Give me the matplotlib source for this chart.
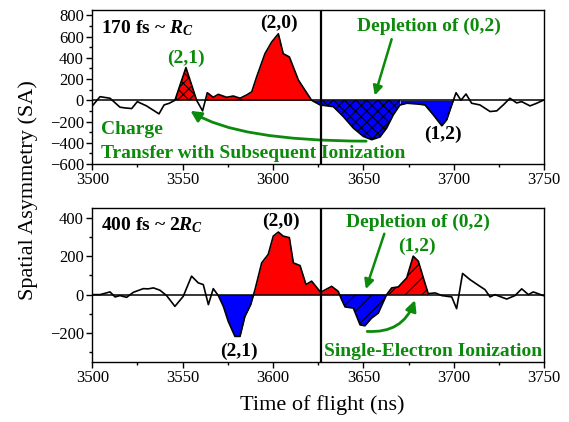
import numpy as np
import matplotlib
matplotlib.use("Agg")
import matplotlib.pyplot as plt
from matplotlib.ticker import MultipleLocator

plt.rcParams['font.family'] = 'Liberation Serif'
plt.rcParams['mathtext.fontset'] = 'custom'
plt.rcParams['mathtext.rm'] = 'Liberation Serif:bold'
plt.rcParams['mathtext.it'] = 'Liberation Serif:bold:italic'
plt.rcParams['mathtext.bf'] = 'Liberation Serif:bold'
plt.rcParams['hatch.linewidth'] = 0.8

# 170 fs trace
t170 = [3500, 3504.3, 3509.8, 3515.3, 3518, 3521.8, 3524.9, 3530, 3536.9, 3539.7,
        3542.6, 3545.7, 3551.8, 3557.7, 3561, 3563.6, 3566.9, 3569.7, 3574.3, 3578,
        3581.7, 3585.4, 3588.2, 3590.9, 3595.5, 3599.2, 3602.9, 3605.6, 3609, 3614,
        3617.6, 3621.3, 3626, 3633.3, 3638.8, 3644.4, 3649.9, 3654.5, 3659.1, 3662.8,
        3666.5, 3670.2, 3673.9, 3679.4, 3684, 3688.6, 3693.3, 3696, 3698.8, 3701.2,
        3703.9, 3706.7, 3709.8, 3714.4, 3720, 3723.7, 3727.3, 3731, 3734.7, 3737.5,
        3742.1, 3745.8, 3749.4]
sa170 = [-53, 34, 19, -65, -72, -78, -13, -53, -128, -44,
         -28, 0, 308, 0, -100, 71, 28, 56, 28, 40,
         19, 50, 80, 220, 439, 548, 626, 439, 408, 190,
         96, 0, -44, -60, -153, -262, -340, -371, -346, -262,
         -137, -44, -28, -34, -44, -137, -240, -184, -44, 71,
         0, 59, -28, -44, -106, -100, -44, 19, -25, -13,
         -53, -28, 0]

# 400 fs trace
t400 = [3500, 3504.3, 3509.8, 3512.6, 3515.3, 3519, 3522.7, 3528.2, 3531, 3533.8,
        3537.4, 3541.1, 3545.7, 3550.3, 3554.9, 3558.6, 3561.4, 3564.2, 3566.9, 3569.7,
        3572.5, 3575.2, 3578.9, 3581.7, 3584.4, 3587.6, 3590, 3593.7, 3597.3, 3600.1,
        3602.9, 3605.6, 3609, 3611.2, 3614.9, 3618.2, 3621.3, 3626.3, 3632.4, 3636,
        3637.9, 3639.8, 3644.4, 3648.1, 3650.8, 3654.5, 3658.2, 3662.8, 3665.6, 3669.2,
        3673.9, 3677.5, 3680.3, 3683.1, 3685.8, 3689.6, 3693.3, 3698.8, 3701.5, 3704.8,
        3708.9, 3714.4, 3717.2, 3720, 3722.7, 3729.2, 3733.8, 3737.5, 3741.2, 3743.9,
        3749.4]
sa400 = [0, 0, 14, -12, -5, -14, 12, 31, 30, 35,
         23, -5, -61, -9, 96, 61, 52, -52, 31, -5,
         -61, -139, -217, -217, -113, -52, 26, 165, 209, 304,
         325, 304, 296, 165, 151, 52, 70, 12, 43, 17,
         -26, -64, -70, -157, -162, -122, -96, 0, 35, 40,
         87, 200, 174, 87, 5, 9, -5, -12, -73, 110,
         78, 43, 26, -12, 0, -23, -5, 30, 0, 14,
         -5]

xticks = [3500, 3550, 3600, 3650, 3700, 3750]
t_cut = 3626.5
green = '#0b8a0b'

fig = plt.figure(figsize=(5.69, 4.22), dpi=100)
ax1 = fig.add_axes([0.1622, 0.6114, 0.7944, 0.3649])
ax2 = fig.add_axes([0.1622, 0.1422, 0.7944, 0.3649])


def shade(ax, t, y, lo, hi, sign, color, hatch=None):
    t = np.asarray(t, float)
    y = np.asarray(y, float)
    m = (t >= lo) & (t <= hi)
    ax.fill_between(t[m], y[m], 0, where=sign * y[m] >= 0, interpolate=True,
                    facecolor=color, edgecolor='black' if hatch else color,
                    hatch=hatch, linewidth=0, zorder=1)


# top panel
shade(ax1, t170, sa170, 3545.7, 3557.7, 1, 'red', 'xxx')
shade(ax1, t170, sa170, 3561, 3626, 1, 'red')
shade(ax1, t170, sa170, 3617.6, 3626, -1, 'blue')
shade(ax1, t170, sa170, 3626, 3670.2, -1, 'blue', 'xxx')
shade(ax1, t170, sa170, 3670.2, 3701.2, -1, 'blue')

# bottom panel
shade(ax2, t400, sa400, 3566.9, 3590, -1, 'blue')
shade(ax2, t400, sa400, 3587.6, 3637.9, 1, 'red')
shade(ax2, t400, sa400, 3636, 3665.6, -1, 'blue', '//')
shade(ax2, t400, sa400, 3658.2, 3685.8, 1, 'red', '//')

for ax, t, y in ((ax1, t170, sa170), (ax2, t400, sa400)):
    ax.plot(t, y, color='black', lw=1.2, zorder=3)
    ax.axhline(0, color='black', lw=1.1, zorder=2)
    ax.axvline(t_cut, color='black', lw=1.6, zorder=4)
    ax.set_xlim(3500, 3750)
    ax.set_xticks(xticks)
    ax.xaxis.set_minor_locator(MultipleLocator(25))
    ax.yaxis.set_major_locator(MultipleLocator(200))
    ax.yaxis.set_minor_locator(MultipleLocator(100))
    ax.tick_params(which='major', direction='out', length=4, width=1, labelsize=12, pad=2)
    ax.tick_params(which='minor', direction='out', length=2.5, width=1)
    for s in ax.spines.values():
        s.set_linewidth(1.0)

ax1.set_ylim(-600, 850)
ax2.set_ylim(-350, 450)

bold = dict(fontsize=14, fontweight='bold')

# top panel labels
ax1.text(3505, 680, r'170 fs ~ $R_C$', ha='left', va='center', **bold)
ax1.text(3603, 725, '(2,0)', ha='center', va='center', **bold)
ax1.text(3552, 395, '(2,1)', ha='center', va='center', color=green, **bold)
ax1.text(3686, 694, 'Depletion of (0,2)', ha='center', va='center', color=green, **bold)
ax1.text(3694, -325, '(1,2)', ha='center', va='center', **bold)
ax1.text(3505, -272, 'Charge', ha='left', va='center', color=green, **bold)
ax1.text(3505, -505, 'Transfer with Subsequent Ionization', ha='left', va='center',
         color=green, **bold)
ax1.annotate('', xy=(3655.8, 20), xytext=(3666, 600),
             arrowprops=dict(arrowstyle='-|>', color=green, lw=1.8, mutation_scale=14))
ax1.annotate('', xy=(3553, -85), xytext=(3653, -385),
             arrowprops=dict(arrowstyle='-|>', color=green, lw=2, mutation_scale=16,
                             connectionstyle='angle3,angleA=0,angleB=-35'))

# bottom panel labels
ax2.text(3505, 360, r'400 fs ~ 2$R_C$', ha='left', va='center', **bold)
ax2.text(3604.5, 379, '(2,0)', ha='center', va='center', **bold)
ax2.text(3581, -296, '(2,1)', ha='center', va='center', **bold)
ax2.text(3680, 374, 'Depletion of (0,2)', ha='center', va='center', color=green, **bold)
ax2.text(3679.5, 252, '(1,2)', ha='center', va='center', color=green, **bold)
ax2.text(3688.5, -296, 'Single-Electron Ionization', ha='center', va='center',
         color=green, **bold)
ax2.annotate('', xy=(3650.8, 15), xytext=(3662, 330),
             arrowprops=dict(arrowstyle='-|>', color=green, lw=1.8, mutation_scale=14))
ax2.annotate('', xy=(3679, -15), xytext=(3650.5, -190),
             arrowprops=dict(arrowstyle='-|>', color=green, lw=2, mutation_scale=16,
                             connectionstyle='arc3,rad=0.4'))

fig.text(0.049, 0.55, 'Spatial Asymmetry (SA)', rotation=90, ha='center', va='center',
         fontsize=16)
fig.text(0.566, 0.04, 'Time of flight (ns)', ha='center', va='center', fontsize=16)

fig.savefig('out.png', dpi=100)
